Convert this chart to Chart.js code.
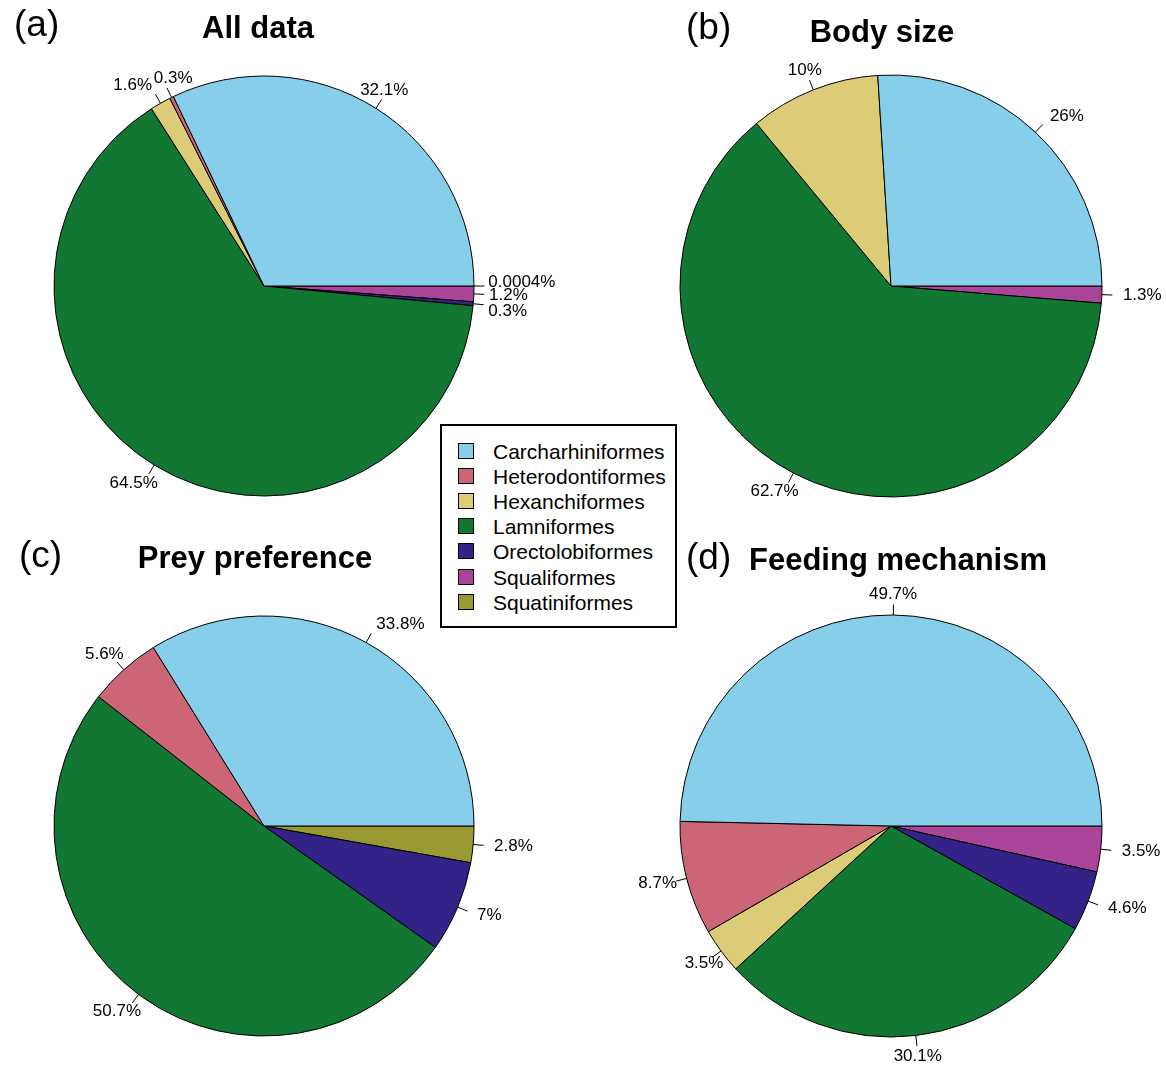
<!DOCTYPE html>
<html><head><meta charset="utf-8">
<script src="https://cdn.jsdelivr.net/npm/chart.js@4.4.1/dist/chart.umd.min.js"></script>
<style>
html,body{margin:0;padding:0;background:#fff;}
#wrap{position:relative;width:1166px;height:1067px;overflow:hidden;background:#fff;}
#wrap canvas{position:absolute;left:0;top:0;}
#legend{position:absolute;z-index:10;left:440px;top:424px;width:233px;height:200px;border:2px solid #000;background:#fff;font-family:"Liberation Sans",Arial,sans-serif;font-size:21px;color:#000;}
.lg-row{position:absolute;left:0;width:233px;height:25px;line-height:25px;white-space:nowrap;}
.lg-sw{position:absolute;left:16px;top:4px;width:14px;height:14px;border:1.5px solid #000;}
.lg-tx{position:absolute;left:51px;top:0;}
</style></head>
<body>
<div id="wrap"><div id="legend"></div></div>
<script>
// ---- data ----
const categories = ["Carcharhiniformes","Heterodontiformes","Hexanchiformes","Lamniformes","Orectolobiformes","Squaliformes","Squatiniformes"];
const colours = ["#87CEEB","#CC6677","#DDCC77","#117733","#332288","#AA4499","#999933"];
const allData = [32.1, 0.3, 1.6, 64.5, 0.3, 1.2, 0.0004];
const bodySize = [26, 0, 10, 62.7, 0, 1.3, 0];
const preyPreference = [33.8, 5.6, 0, 50.7, 7, 0, 2.8];
const feedingMechanism = [49.7, 8.7, 3.5, 30.1, 4.6, 3.5, 0];
const panelTags = ["(a)","(b)","(c)","(d)"];
const panelTitles = ["All data","Body size","Prey preference","Feeding mechanism"];

// ---- label placement styles (fraction of label width left of anchor; vertical nudge px) ----
const adjA = [0.56, 0.22, 0.95, 0.7, 0.15, 0.15, 0.1];
const dyA  = [0, 0, 0, 0, 6, 1, -4];
const adjB = [0, 0, 0.52, 0.69, 0, 0, 0];
const adjC = [0, 0.64, 0, 0.69, 0, 0, 0];
const adjD = [0.51, 0.72, 0.5, 0.51, 0, 0, 0];
const zeros = [0,0,0,0,0,0,0];

const W = 1166, H = 1067;
const FONT = '"Liberation Sans", Arial, Helvetica, sans-serif';

const panels = [
  {values: allData,          adj: adjA, dy: dyA,   cx: 264, cy: 286, r: 210, tagX: 14,  tagY: 35.5, titleX: 258, titleY: 38},
  {values: bodySize,         adj: adjB, dy: zeros, cx: 891, cy: 286, r: 211, tagX: 686, tagY: 39,   titleX: 882, titleY: 41.5},
  {values: preyPreference,   adj: adjC, dy: zeros, cx: 264, cy: 826, r: 210, tagX: 19,  tagY: 567,  titleX: 255, titleY: 568},
  {values: feedingMechanism, adj: adjD, dy: zeros, cx: 891, cy: 826, r: 211, tagX: 686, tagY: 569,  titleX: 898, titleY: 570}
];

const pieDecor = {
  id: 'pieDecor',
  afterDatasetsDraw(chart, args, opts) {
    const ctx = chart.ctx;
    const meta = chart.getDatasetMeta(0);
    const ds = chart.data.datasets[0];
    ctx.save();
    ctx.font = '17px ' + FONT;
    ctx.fillStyle = '#000';
    ctx.strokeStyle = '#000';
    ctx.lineWidth = 1;
    ctx.textBaseline = 'middle';
    ctx.textAlign = 'left';
    meta.data.forEach((arc, i) => {
      const p = arc.getProps(['x','y','startAngle','endAngle','outerRadius'], true);
      const mid = (p.startAngle + p.endAngle) / 2;
      const c = Math.cos(mid), s = Math.sin(mid);
      const R = p.outerRadius;
      ctx.beginPath();
      ctx.moveTo(p.x + c * R, p.y + s * R);
      ctx.lineTo(p.x + c * R * 1.05, p.y + s * R * 1.05);
      ctx.stroke();
      const txt = ds.data[i] + '%';
      const w = ctx.measureText(txt).width;
      const k = ds.catIndex[i];
      const a = opts.adj[k];
      const ax = p.x + c * R * 1.1, ay = p.y + s * R * 1.1;
      ctx.fillText(txt, ax - a * w, ay + opts.dy[k]);
    });
    // panel tag and title
    ctx.textBaseline = 'alphabetic';
    ctx.textAlign = 'left';
    ctx.font = '37px ' + FONT;
    ctx.fillText(opts.tag, opts.tagX, opts.tagY);
    ctx.textAlign = 'center';
    ctx.font = 'bold 31px ' + FONT;
    ctx.fillText(opts.title, opts.titleX, opts.titleY);
    ctx.restore();
  }
};

const wrap = document.getElementById('wrap');
panels.forEach((p, n) => {
  // R draws counter-clockwise from 3 o'clock; Chart.js draws clockwise, so reverse
  const idx = categories.map((_, i) => i).filter(i => p.values[i] > 0).reverse();
  const cv = document.createElement('canvas');
  cv.width = W; cv.height = H;
  cv.style.width = W + 'px'; cv.style.height = H + 'px';
  wrap.appendChild(cv);
  new Chart(cv, {
    type: 'pie',
    data: {
      labels: idx.map(i => categories[i]),
      datasets: [{
        data: idx.map(i => p.values[i]),
        catIndex: idx,
        backgroundColor: idx.map(i => colours[i]),
        borderColor: '#000',
        borderWidth: 1
      }]
    },
    options: {
      responsive: false,
      animation: false,
      events: [],
      rotation: 90,
      layout: {padding: {
        left: p.cx - p.r - 0.5, right: W - (p.cx + p.r + 0.5),
        top: p.cy - p.r - 0.5, bottom: H - (p.cy + p.r + 0.5)
      }},
      plugins: {
        legend: {display: false},
        tooltip: {enabled: false},
        pieDecor: {adj: p.adj, dy: p.dy, tag: panelTags[n], title: panelTitles[n],
                   tagX: p.tagX, tagY: p.tagY, titleX: p.titleX, titleY: p.titleY}
      }
    },
    plugins: [pieDecor]
  });
});

// legend
const lg = document.getElementById('legend');
categories.forEach((name, i) => {
  const row = document.createElement('div');
  row.className = 'lg-row';
  row.style.top = (12.5 + 25.2 * i) + 'px';
  const sw = document.createElement('div');
  sw.className = 'lg-sw';
  sw.style.background = colours[i];
  const tx = document.createElement('div');
  tx.className = 'lg-tx';
  tx.textContent = name;
  row.appendChild(sw); row.appendChild(tx);
  lg.appendChild(row);
});
</script>
</body></html>
